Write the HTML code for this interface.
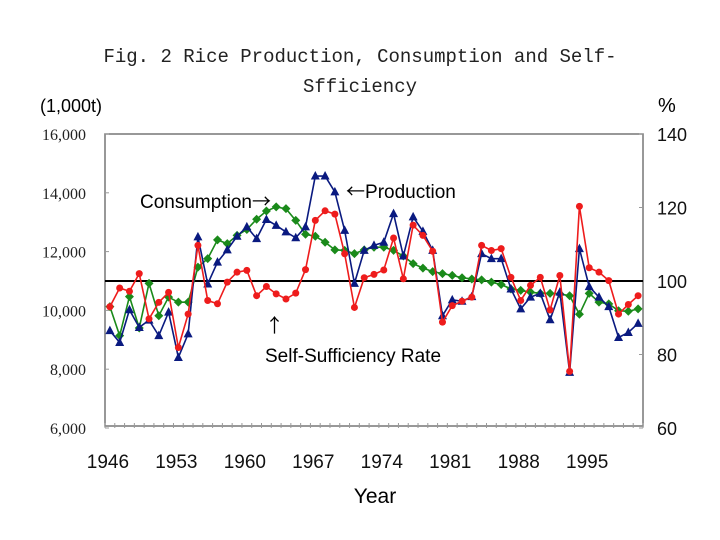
<!DOCTYPE html>
<html><head><meta charset="utf-8"><style>
body{margin:0;background:#fff;}
svg{display:block;font-family:"Liberation Sans","Noto Sans CJK JP",sans-serif;}
.cjk{font-family:"Noto Sans CJK JP",sans-serif;}
</style></head><body>
<svg id="chart" width="720" height="540" viewBox="0 0 720 540" xmlns="http://www.w3.org/2000/svg">
<rect width="720" height="540" fill="#fff"/>
<g font-family="Liberation Mono, monospace" font-size="19" fill="#222" text-anchor="middle">
<text x="360" y="62">Fig. 2  Rice Production, Consumption and Self-</text>
<text x="360" y="92">Sfficiency</text>
</g>
<text x="40" y="112" font-size="18">(1,000t)</text>
<text x="658" y="112" font-size="20">%</text>
<rect x="105" y="134" width="538" height="292" fill="none" stroke="#777" stroke-width="1.5"/>
<g id="ticks"></g>
<g id="series"></g>
<text x="375" y="503" font-size="21" text-anchor="middle">Year</text>
<text x="140" y="208" font-size="19">Consumption<tspan class="cjk">→</tspan></text>
<text x="346" y="198" font-size="19"><tspan class="cjk">←</tspan>Production</text>
<text x="265" y="332" font-size="19" class="cjk">↑</text>
<text x="265" y="362" font-size="19">Self-Sufficiency Rate</text>
</svg>
<script>
const years=[];for(let y=1946;y<=2000;y++)years.push(y);
const production=[9310,8910,10020,9420,9670,9140,9940,8400,9200,12500,10900,11640,12060,12520,12840,12440,13090,12890,12670,12470,12840,14570,14570,14030,12720,10920,12040,12210,12320,13290,11850,13180,12690,12040,9820,10360,10310,10470,11930,11760,11760,10730,10050,10450,10580,9680,10620,7890,12100,10810,10450,10130,9080,9250,9560];
const consumption=[10130,9140,10470,9400,10920,9820,10450,10280,10280,11470,11760,12400,12270,12550,12750,13100,13380,13520,13460,13060,12590,12520,12320,12060,12040,11930,12060,12150,12150,12040,11850,11590,11440,11320,11250,11190,11110,11070,11040,10960,10880,10730,10680,10620,10580,10580,10560,10500,9870,10580,10280,10220,9990,9970,10050];
const selfSufficiency=[93.0,98.1,97.2,102.0,89.7,94.2,96.9,81.9,91.0,109.7,94.7,93.8,99.7,102.4,102.9,96.0,98.5,96.5,95.1,96.7,103.1,116.5,119.1,118.2,107.4,92.8,100.9,101.8,103.0,111.7,100.6,115.2,112.4,108.1,88.8,93.3,94.5,95.6,109.7,108.3,108.8,101.0,94.7,98.8,101.0,92.1,101.5,75.4,120.3,103.6,102.4,100.1,91.0,93.6,96.0];
const leftTicks=[6000,8000,10000,12000,14000,16000];
const leftTickLabels=["6,000","8,000","10,000","12,000","14,000","16,000"];
const rightTicks=[60,80,100,120,140];
const xTickLabels=[1946,1953,1960,1967,1974,1981,1988,1995];
const refLevel=100;

const L=105,R=643,T=134,B=428;
const bw=(R-L)/years.length;
const xS=y=>L+(years.indexOf(y)+0.5)*bw;
const yL=v=>B-(v-6000)/10000*(B-T);
const yR=v=>B-(v-60)/80*(B-T);
const NS="http://www.w3.org/2000/svg";
function mk(tag,attrs,parent){const e=document.createElementNS(NS,tag);for(const k in attrs)e.setAttribute(k,attrs[k]);parent.appendChild(e);return e;}
const tk=document.getElementById('ticks'),sg=document.getElementById('series');
for(let i=0;i<=years.length;i++){const x=L+i*bw;const t=mk('line',{x1:x,x2:x,y1:B,y2:B-5,stroke:'#999','stroke-width':1},tk);

}
leftTicks.forEach((v,i)=>{const t=mk('text',{x:86,y:yL(v)+6,'text-anchor':'end','font-size':16,'font-family':'Liberation Serif, serif',fill:'#222'},tk);t.textContent=leftTickLabels[i];


const m=mk('line',{x1:L,x2:L+4,y1:yL(v),y2:yL(v),stroke:'#999'},tk);

});
rightTicks.forEach(v=>{const t=mk('text',{x:657,y:yR(v)+7,'font-size':18,fill:'#111'},tk);t.textContent=v;


const m=mk('line',{x1:R-4,x2:R,y1:yR(v),y2:yR(v),stroke:'#999'},tk);

});
xTickLabels.forEach(y=>{const t=mk('text',{x:xS(y)-2,y:468,'text-anchor':'middle','font-size':19,fill:'#111'},tk);t.textContent=y;

});
const rl=mk('line',{x1:L,x2:R,y1:yR(refLevel),y2:yR(refLevel),stroke:'#000','stroke-width':2},sg);


function series(vals,ys,color,shape,name){
const pts=vals.map((v,i)=>[xS(years[i]),ys(v)]);
const pl=mk('polyline',{points:pts.map(p=>p.join(',')).join(' '),fill:'none',stroke:color,'stroke-width':1.6},sg);


pts.forEach(([x,y])=>{let m;
if(shape==='tri')m=mk('polygon',{points:`${x},${y-5} ${x-4.5},${y+3.5} ${x+4.5},${y+3.5}`,fill:color},sg);
else if(shape==='dia')m=mk('polygon',{points:`${x},${y-4.5} ${x+4.5},${y} ${x},${y+4.5} ${x-4.5},${y}`,fill:color},sg);
else m=mk('circle',{cx:x,cy:y,r:3.5,fill:color},sg);

});}
series(consumption,yL,'#1a8a1a','dia','consumption');
series(production,yL,'#0a1a80','tri','production');
series(selfSufficiency,yR,'#ee1c1c','circ','self-sufficiency');
</script>
</body></html>
